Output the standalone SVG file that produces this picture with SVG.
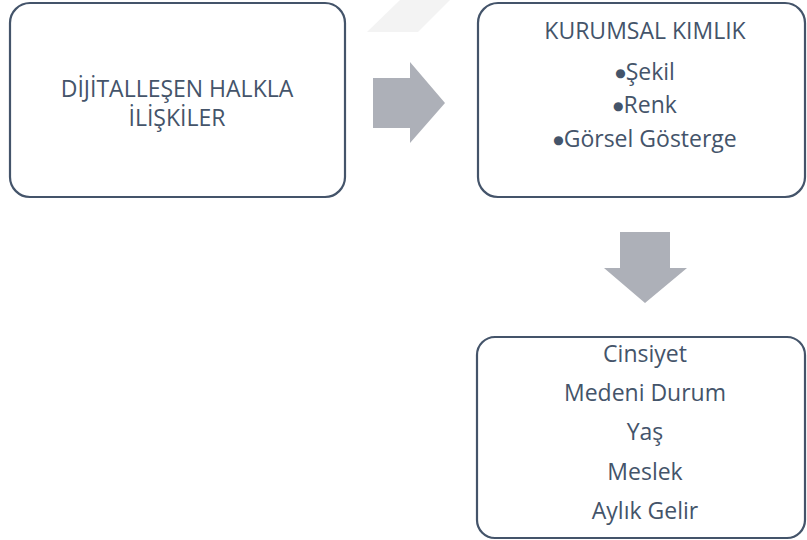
<svg xmlns="http://www.w3.org/2000/svg" width="807" height="540" viewBox="0 0 807 540">
<style>
.box{fill:#ffffff;stroke:#44546A;stroke-width:2.2}
.arrow{fill:#ADB0B8}
text{font-family:"Open Sans","Noto Sans","Liberation Sans",sans-serif;font-size:23px;fill:#44546A;text-anchor:middle}
.b{font-family:"DejaVu Sans",sans-serif;font-size:12px}
</style>
<rect width="807" height="540" fill="#ffffff"/>
<polygon points="367,32 400,0 450,0 418,32" fill="#f3f3f3"/>
<g id="connectors">
<polygon class="arrow" points="373,78 410,78 410,62 445,103 410,143 410,128 373,128"/>
<polygon class="arrow" points="620,232 670,232 670,268 687,268 645,303 604,268 620,268"/>
</g>
<g id="node-dijital">
<rect class="box" x="10" y="3" width="335" height="194" rx="20" ry="20"/>
<text x="177" y="97">DİJİTALLEŞEN HALKLA</text>
<text x="177" y="126">İLİŞKİLER</text>
</g>
<g id="node-kurumsal">
<rect class="box" x="478" y="3" width="327" height="194" rx="20" ry="20"/>
<text x="645" y="39">KURUMSAL KIMLIK</text>
<text x="645" y="80"><tspan class="b" dy="-3">●</tspan><tspan dy="3">Şekil</tspan></text>
<text x="645" y="113"><tspan class="b" dy="-3">●</tspan><tspan dy="3">Renk</tspan></text>
<text x="645" y="147"><tspan class="b" dy="-3">●</tspan><tspan dy="3">Görsel Gösterge</tspan></text>
</g>
<g id="node-demografi">
<rect class="box" x="477" y="337" width="328" height="201" rx="18" ry="18"/>
<text x="645" y="362">Cinsiyet</text>
<text x="645" y="401">Medeni Durum</text>
<text x="645" y="440">Yaş</text>
<text x="645" y="480">Meslek</text>
<text x="645" y="519">Aylık Gelir</text>
</g>
</svg>
